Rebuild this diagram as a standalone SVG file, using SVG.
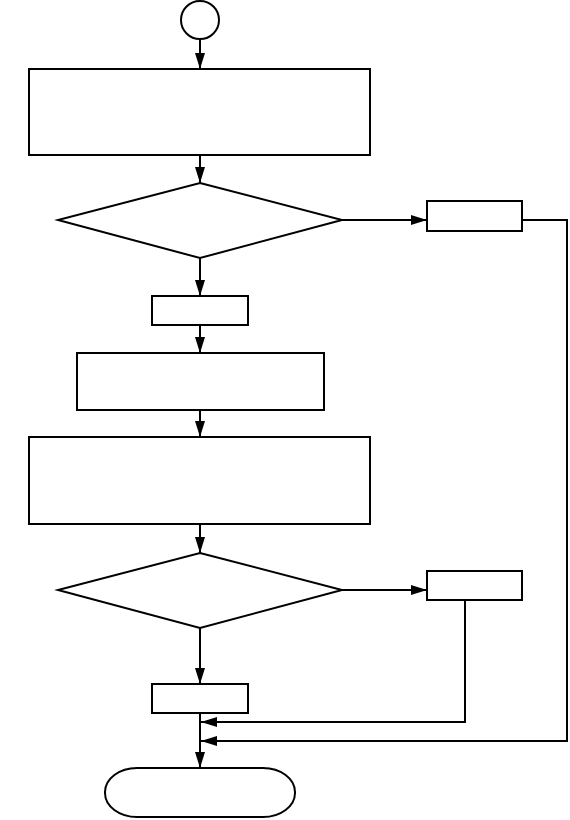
<svg xmlns="http://www.w3.org/2000/svg" width="570" height="820" viewBox="0 0 570 820">
<style>
.n{fill:#fff;stroke:#000;stroke-width:2}
.c{fill:none;stroke:#000;stroke-width:2}
</style>
<defs>
<marker id="a" markerUnits="userSpaceOnUse" markerWidth="18" markerHeight="12" refX="16" refY="5" orient="auto">
<path d="M0,0 L16,5 L0,10 Z" fill="#000"/>
</marker>
</defs>
<rect width="570" height="820" fill="#fff"/>
<g id="connectors">
<line class="c" x1="200" y1="39" x2="200" y2="69" marker-end="url(#a)"/>
<line class="c" x1="200" y1="155" x2="200" y2="183" marker-end="url(#a)"/>
<line class="c" x1="200" y1="258" x2="200" y2="296" marker-end="url(#a)"/>
<line class="c" x1="200" y1="325" x2="200" y2="353" marker-end="url(#a)"/>
<line class="c" x1="200" y1="410" x2="200" y2="437" marker-end="url(#a)"/>
<line class="c" x1="200" y1="524" x2="200" y2="553" marker-end="url(#a)"/>
<line class="c" x1="200" y1="628" x2="200" y2="684" marker-end="url(#a)"/>
<line class="c" x1="200" y1="713" x2="200" y2="768" marker-end="url(#a)"/>
<line class="c" x1="342" y1="220" x2="427" y2="220" marker-end="url(#a)"/>
<line class="c" x1="342" y1="590" x2="427" y2="590" marker-end="url(#a)"/>
<polyline class="c" points="522,220 567,220 567,741 201,741" marker-end="url(#a)"/>
<polyline class="c" points="465,600 465,722 201,722" marker-end="url(#a)"/>
</g>
<g id="start"><circle class="n" cx="200" cy="20" r="19"/></g>
<g id="p1"><rect class="n" x="29" y="69" width="341" height="86"/></g>
<g id="d1"><polygon class="n" points="200,183 342,220 200,258 58,220"/></g>
<g id="r1"><rect class="n" x="427" y="201" width="95" height="30"/></g>
<g id="p2"><rect class="n" x="152" y="296" width="96" height="29"/></g>
<g id="p3"><rect class="n" x="77" y="353" width="247" height="57"/></g>
<g id="p4"><rect class="n" x="29" y="437" width="341" height="87"/></g>
<g id="d2"><polygon class="n" points="200,553 342,590 200,628 58,590"/></g>
<g id="r2"><rect class="n" x="427" y="571" width="95" height="29"/></g>
<g id="p5"><rect class="n" x="152" y="684" width="96" height="29"/></g>
<g id="end"><rect class="n" x="105" y="768" width="190" height="49" rx="32" ry="24"/></g>
</svg>
